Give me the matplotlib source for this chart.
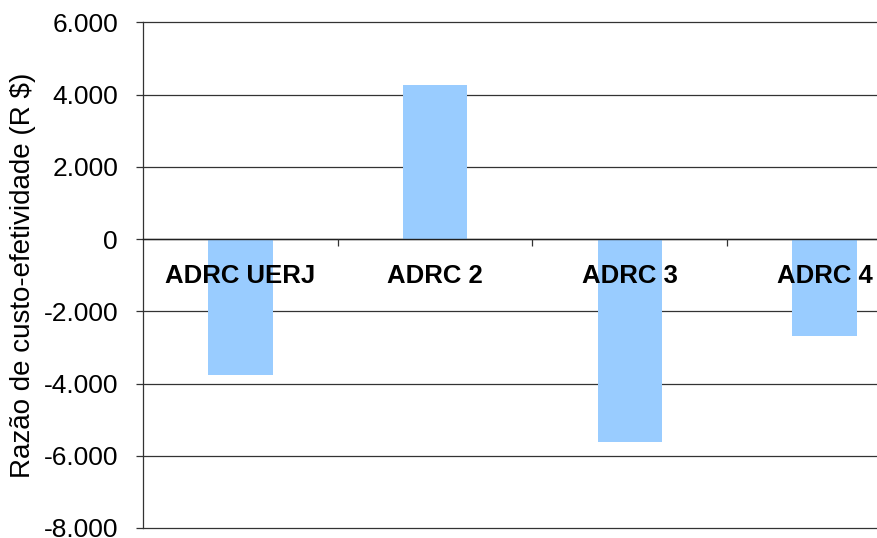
import matplotlib
matplotlib.use("Agg")
import matplotlib.pyplot as plt
from matplotlib.ticker import FuncFormatter, FixedLocator

plt.rcParams['font.family'] = ['Liberation Sans', 'DejaVu Sans']

categories = ['ADRC UERJ', 'ADRC 2', 'ADRC 3', 'ADRC 4']
razao = [-3750, 4260, -5620, -2680]
y_ticks = [-8000, -6000, -4000, -2000, 0, 2000, 4000, 6000]

fig = plt.figure(figsize=(8.77, 5.38), dpi=100)
# plot area runs on past the right edge of the canvas
ax = fig.add_axes([0.1631, 0.0186, 0.888, 0.9396])

x = [i + 0.5 for i in range(len(categories))]
ax.bar(x, razao, width=0.33, color='#99CCFF', zorder=2)

ax.set_xlim(0, len(categories))
ax.set_ylim(-8000, 6000)
ax.set_yticks(y_ticks)
ax.yaxis.set_major_formatter(FuncFormatter(lambda v, p: f"{v:,.0f}".replace(',', '.')))
ax.grid(axis='y', color='#333333', linewidth=0.9)
ax.set_axisbelow(True)
for gl in ax.yaxis.get_gridlines():
    gl.set_clip_on(False)

for side in ['top', 'right']:
    ax.spines[side].set_visible(False)
ax.spines['bottom'].set_position(('data', 0))
ax.spines['bottom'].set_color('#202020')
ax.spines['bottom'].set_linewidth(1.0)
ax.spines['bottom'].set_zorder(3)
ax.spines['left'].set_color('#333333')
ax.spines['left'].set_linewidth(0.9)

# category names under the zero line, separators as minor ticks
ax.set_xticks(x)
ax.set_xticklabels(categories, fontsize=18.5, fontweight='bold')
ax.xaxis.set_minor_locator(FixedLocator([1, 2, 3]))
ax.tick_params(axis='x', which='major', length=0, pad=18)
ax.tick_params(axis='x', which='minor', direction='out', length=5, width=0.9, color='#333333')
ax.xaxis.set_zorder(4)

ax.tick_params(axis='y', direction='out', length=5, width=0.9, color='#333333',
               labelsize=19, pad=13)

ax.set_ylabel('Razão de custo-efetividade (R $)', fontsize=20)
ax.yaxis.set_label_coords(-0.137, 0.5)

fig.savefig('out.png', dpi=100)
